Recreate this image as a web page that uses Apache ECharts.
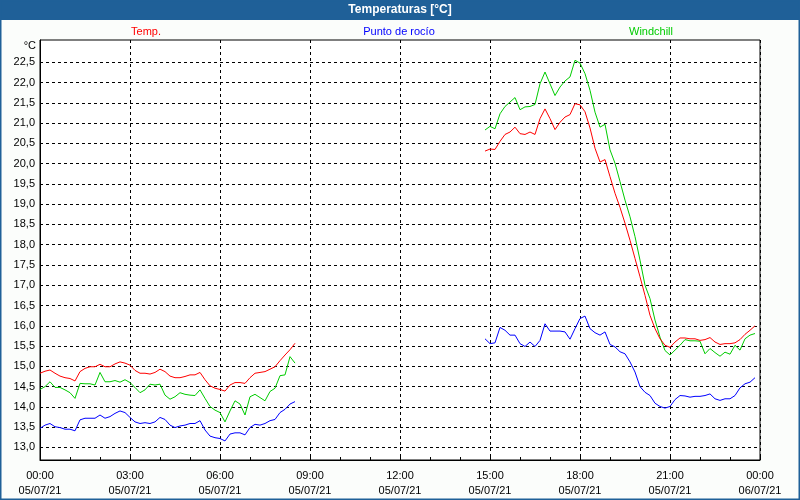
<!DOCTYPE html>
<html>
<head>
<meta charset="utf-8">
<script src="https://cdn.jsdelivr.net/npm/echarts@6/dist/echarts.min.js"></script>
<style>html,body{margin:0;padding:0;background:#fff}#c{width:800px;height:500px}</style>
</head>
<body>
<div id="c"></div>
<script>
// ---- data (10-minute samples) ----
const stepMin = 10;
const seg1StartMin = 0;     // 05/07/21 00:00
const seg2StartMin = 890;   // 05/07/21 14:50

const temp1 = [14.83,14.88,14.91,14.83,14.76,14.72, 14.70,14.64,14.87,14.95,14.99,14.99,
  15.05,14.99,14.99,15.06,15.11,15.08, 15.03,14.90,14.83,14.83,14.81,14.85,
  14.93,14.87,14.76,14.72,14.72,14.75, 14.79,14.79,14.85,14.67,14.52,14.46,
  14.43,14.39,14.54,14.60,14.60,14.58, 14.72,14.83,14.85,14.87,14.93,14.99,
  15.14,15.28,15.41,15.57];
const wind1 = [14.43,14.50,14.62,14.48,14.48,14.42, 14.35,14.21,14.58,14.57,14.57,14.54,
  14.85,14.62,14.62,14.65,14.61,14.67, 14.60,14.48,14.35,14.42,14.56,14.54,
  14.56,14.29,14.19,14.25,14.35,14.31, 14.29,14.28,14.42,14.21,14.01,13.92,
  13.86,13.63,13.90,14.15,14.07,13.80, 14.25,14.31,14.23,14.15,14.38,14.46,
  14.77,14.79,15.24,15.08];
const dew1 = [13.47,13.55,13.59,13.51,13.49,13.45, 13.45,13.41,13.68,13.72,13.72,13.72,
  13.80,13.72,13.76,13.84,13.90,13.86, 13.74,13.63,13.59,13.61,13.59,13.63,
  13.74,13.69,13.55,13.49,13.53,13.55, 13.59,13.59,13.66,13.43,13.28,13.24,
  13.22,13.16,13.33,13.36,13.36,13.31, 13.49,13.57,13.55,13.59,13.66,13.69,
  13.86,13.94,14.07,14.13];

const temp2 = [20.31,20.36,20.35,20.55,20.72,20.78,20.90, 20.74,20.72,20.78,20.72,21.11,21.35,
  21.11,20.84,21.02,21.15,21.21,21.48, 21.45,21.28,20.88,20.38,20.04,20.10,
  19.68,19.27,18.92,18.53,18.11,17.66, 17.21,16.75,16.26,15.93,15.68,15.52,
  15.47,15.60,15.70,15.70,15.68,15.68, 15.64,15.66,15.71,15.60,15.54,15.56,
  15.56,15.58,15.66,15.79,15.89,16.00];
const wind2 = [20.83,20.92,20.86,21.23,21.41,21.52,21.63, 21.33,21.40,21.41,21.46,21.97,22.26,
  21.97,21.68,21.89,22.04,22.14,22.55, 22.48,22.22,21.81,21.27,20.90,20.97,
  20.34,20.01,19.56,19.10,18.69,18.20, 17.62,17.00,16.67,16.14,15.72,15.39,
  15.28,15.40,15.52,15.66,15.63,15.63, 15.62,15.31,15.44,15.34,15.25,15.35,
  15.30,15.52,15.40,15.68,15.77,15.81];
const dew2 = [15.68,15.56,15.58,15.96,15.89,15.77,15.77, 15.56,15.49,15.60,15.49,15.64,16.05,
  15.87,15.87,15.87,15.85,15.67,15.93, 16.18,16.24,15.93,15.83,15.77,15.85,
  15.54,15.48,15.36,15.31,15.11,14.86, 14.50,14.36,14.28,14.09,14.01,13.97,
  14.01,14.18,14.28,14.27,14.24,14.26, 14.26,14.28,14.32,14.20,14.16,14.20,
  14.20,14.28,14.47,14.57,14.61,14.72];

const yTicks = [13.0,13.5,14.0,14.5,15.0,15.5,16.0,16.5,17.0,17.5,18.0,18.5,19.0,19.5,20.0,20.5,21.0,21.5,22.0,22.5];
const xTickTimes = ['00:00','03:00','06:00','09:00','12:00','15:00','18:00','21:00','00:00'];
const xTickDates = ['05/07/21','05/07/21','05/07/21','05/07/21','05/07/21','05/07/21','05/07/21','05/07/21','06/07/21'];
const seriesNames = ['Temp.','Punto de rocío','Windchill'];
const seriesColors = ['#ff0000','#0000ff','#00cc00'];

function pairs(start, arr){ return arr.map((v,i)=>[start + i*stepMin, v]); }

const FONT = '"Liberation Sans", Arial, sans-serif';
const chart = echarts.init(document.getElementById('c'), null, {renderer:'canvas'});

function mk(name, color, data){
  return {name, type:'line', data, showSymbol:false, symbol:'none', animation:false,
    lineStyle:{color, width:1}, itemStyle:{color}, z:3};
}

chart.setOption({
  backgroundColor:'#fbfdfb',
  animation:false,
  grid:{left:40,right:40,top:40,bottom:40, show:true, backgroundColor:'#ffffff', borderColor:'#000', borderWidth:1},
  xAxis:{type:'value', min:0, max:1440, interval:180,
    axisLine:{lineStyle:{color:'#000',width:1}},
    axisTick:{show:true, inside:true, length:3, lineStyle:{color:'#000'}},
    minorTick:{show:true, splitNumber:3, length:3, lineStyle:{color:'#000'}},
    splitLine:{show:true, lineStyle:{color:'#000', type:[3,3], width:1}},
    axisLabel:{color:'#000', fontFamily:FONT, fontSize:11, lineHeight:15, margin:8,
      formatter:(v)=>{const k=Math.round(v/180); return xTickTimes[k]+'\n'+xTickDates[k];}}
  },
  yAxis:{type:'value', min:12.69, max:23.05,
    axisLine:{show:true, lineStyle:{color:'#000',width:1}},
    axisTick:{show:false, customValues:yTicks},
    splitLine:{show:true, lineStyle:{color:'#000', type:[3,3], width:1}},
    axisLabel:{customValues:yTicks, color:'#000', fontFamily:FONT, fontSize:11, margin:5,
      formatter:(v)=>v.toFixed(1).replace('.',',')}
  },
  series:[
    mk(seriesNames[1], seriesColors[1], pairs(seg1StartMin, dew1)),
    mk(seriesNames[1], seriesColors[1], pairs(seg2StartMin, dew2)),
    mk(seriesNames[2], seriesColors[2], pairs(seg1StartMin, wind1)),
    mk(seriesNames[2], seriesColors[2], pairs(seg2StartMin, wind2)),
    mk(seriesNames[0], seriesColors[0], pairs(seg1StartMin, temp1)),
    mk(seriesNames[0], seriesColors[0], pairs(seg2StartMin, temp2))
  ],
  graphic:[
    {type:'rect', shape:{x:0,y:0,width:800,height:20}, style:{fill:'#1f6098'}, z:10},
    {type:'rect', shape:{x:0.5,y:0.5,width:799,height:499}, style:{fill:null, stroke:'#1f6098', lineWidth:2}, z:10},
    {type:'text', x:400, y:10, style:{text:'Temperaturas [°C]', fill:'#fff', font:'bold 12px '+FONT, textAlign:'center', textVerticalAlign:'middle'}, z:11},
    {type:'text', x:146, y:32, style:{text:seriesNames[0], fill:seriesColors[0], font:'11px '+FONT, textAlign:'center', textVerticalAlign:'middle'}, z:11},
    {type:'text', x:399, y:32, style:{text:seriesNames[1], fill:seriesColors[1], font:'11px '+FONT, textAlign:'center', textVerticalAlign:'middle'}, z:11},
    {type:'text', x:651, y:32, style:{text:seriesNames[2], fill:seriesColors[2], font:'11px '+FONT, textAlign:'center', textVerticalAlign:'middle'}, z:11},
    {type:'text', x:36, y:46, style:{text:'°C', fill:'#000', font:'11px '+FONT, textAlign:'right', textVerticalAlign:'middle'}, z:11}
  ]
});
</script>
</body>
</html>
